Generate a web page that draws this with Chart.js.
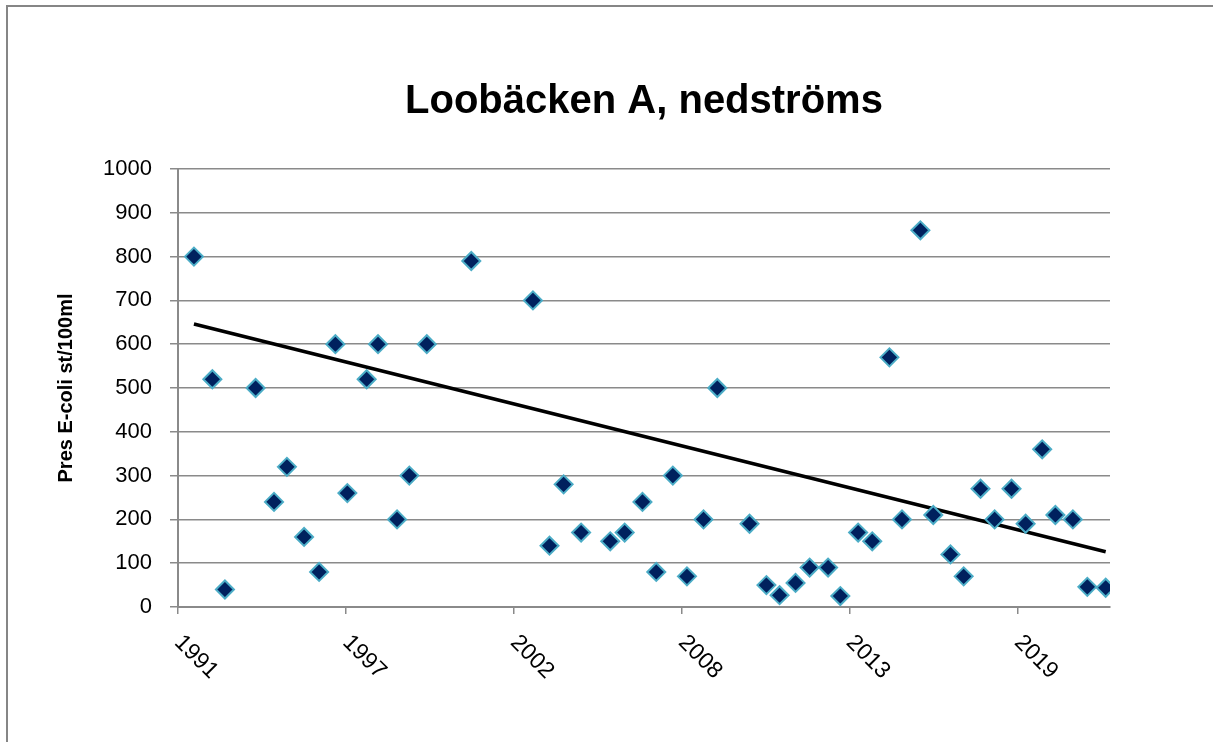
<!DOCTYPE html>
<html>
<head>
<meta charset="utf-8">
<script src="https://cdn.jsdelivr.net/npm/chart.js@4"></script>
<style>
  body { margin: 0; background: #fff; }
  #wrap { width: 1213px; height: 742px; position: relative; }
</style>
</head>
<body>
<div id="wrap"><canvas id="chart"></canvas></div>
<script>
// sample dates (decimal year) and E-coli counts
const sampleDates = [1992.42, 1993.02, 1993.43, 1994.43, 1995.03, 1995.45, 1996.01, 1996.50, 1997.03, 1997.42,
    1998.05, 1998.42, 1999.04, 1999.44, 2000.01, 2001.46, 2003.47, 2004.01, 2004.47, 2005.04,
    2005.99, 2006.46, 2007.04, 2007.49, 2008.03, 2008.49, 2009.03, 2009.48, 2010.53, 2011.08,
    2011.51, 2012.03, 2012.49, 2013.09, 2013.49, 2014.07, 2014.53, 2015.09, 2015.50, 2016.10,
    2016.52, 2017.08, 2017.51, 2018.06, 2018.52, 2019.07, 2019.53, 2020.07, 2020.50, 2021.07,
    2021.54, 2022.14];
const ecoliValues = [800, 520, 40, 500, 240, 320, 160, 80, 600, 260,
    520, 600, 200, 300, 600, 790, 700, 140, 280, 170,
    150, 170, 240, 80, 300, 70, 200, 500, 190, 50,
    27, 55, 90, 90, 25, 170, 150, 570, 200, 860,
    210, 120, 70, 270, 200, 270, 190, 360, 210, 200,
    46, 44];
// linear trendline, start and end value (at first and last sample)
const trendValues = [646, 126];

const xTickValues = [1991.9, 1997.38, 2002.85, 2008.33, 2013.80, 2019.28];
const xTickLabels = ['1991', '1997', '2002', '2008', '2013', '2019'];
const xMin = 1991.9;
const xMax = 2022.28;

const TITLE = 'Loobäcken A, nedströms';
const FONT = '"Liberation Sans", Arial, sans-serif';
const GRID = '#8a8a8a';

const points = sampleDates.map((d, i) => ({ x: d, y: ecoliValues[i] }));
const trend = [
    { x: sampleDates[0], y: trendValues[0] },
    { x: sampleDates[sampleDates.length - 1], y: trendValues[1] }
];

const frame = {
    id: 'frame',
    beforeDraw(chart) {
        const ctx = chart.ctx;
        ctx.save();
        ctx.fillStyle = '#fff';
        ctx.fillRect(0, 0, chart.width, chart.height);
        ctx.strokeStyle = '#868686';
        ctx.lineWidth = 2;
        ctx.strokeRect(7, 6, 1300, 1000);
        ctx.restore();
    }
};

// title centred over the plot area, like Excel does
const plotTitle = {
    id: 'plotTitle',
    afterDraw(chart) {
        const ctx = chart.ctx;
        const area = chart.chartArea;
        ctx.save();
        ctx.font = 'bold 40px ' + FONT;
        ctx.fillStyle = '#000';
        ctx.textAlign = 'center';
        ctx.textBaseline = 'alphabetic';
        ctx.fillText(TITLE, (area.left + area.right) / 2, 113);
        ctx.restore();
    }
};

// Excel style slanted year labels (rotated clockwise, starting at the tick)
const xLabels = {
    id: 'xLabels',
    afterDraw(chart) {
        const ctx = chart.ctx;
        const xs = chart.scales.x;
        ctx.save();
        ctx.font = '23px ' + FONT;
        ctx.fillStyle = '#000';
        ctx.textAlign = 'left';
        ctx.textBaseline = 'middle';
        xs.ticks.forEach((t, i) => {
            const px = xs.getPixelForValue(t.value);
            ctx.save();
            ctx.translate(px, xs.top + 32);
            ctx.rotate(Math.PI / 4);
            ctx.fillText(xTickLabels[i], 0, 0);
            ctx.restore();
        });
        ctx.restore();
    }
};

new Chart(document.getElementById('chart'), {
    type: 'scatter',
    data: {
        datasets: [{
            label: 'E-coli',
            data: points,
            pointStyle: 'rectRot',
            pointRadius: 9,
            pointHoverRadius: 9,
            backgroundColor: '#00215e',
            borderColor: '#4bacc6',
            borderWidth: 2
        }, {
            type: 'line',
            label: 'Linjär',
            data: trend,
            borderColor: '#000',
            borderWidth: 3.5,
            pointRadius: 0,
            fill: false
        }]
    },
    options: {
        responsive: true,
        maintainAspectRatio: false,
        animation: false,
        layout: { padding: { left: 10, right: 103, top: 169, bottom: 0 } },
        plugins: {
            legend: { display: false },
            tooltip: { enabled: false },
            title: { display: false }
        },
        scales: {
            x: {
                type: 'linear',
                min: xMin,
                max: xMax,
                afterBuildTicks: scale => {
                    scale.ticks = xTickValues.map(v => ({ value: v }));
                },
                afterFit: scale => { scale.height = 135; },
                ticks: { display: false },
                grid: { drawOnChartArea: false, drawTicks: true, tickLength: 7, color: GRID, lineWidth: 1.5 },
                border: { display: true, color: GRID, width: 2 }
            },
            y: {
                min: 0,
                max: 1000,
                afterFit: scale => { scale.width = 168; },
                ticks: {
                    stepSize: 100,
                    padding: 18,
                    color: '#000',
                    font: { family: FONT, size: 22 },
                    callback: v => String(v)
                },
                grid: { color: GRID, lineWidth: 1.5, tickLength: 8 },
                border: { display: true, color: GRID, width: 2 },
                title: {
                    display: true,
                    text: 'Pres E-coli st/100ml',
                    color: '#000',
                    font: { family: FONT, size: 20, weight: 'bold' },
                    padding: { top: 44, bottom: 0 }
                }
            }
        }
    },
    plugins: [frame, plotTitle, xLabels]
});
</script>
</body>
</html>
